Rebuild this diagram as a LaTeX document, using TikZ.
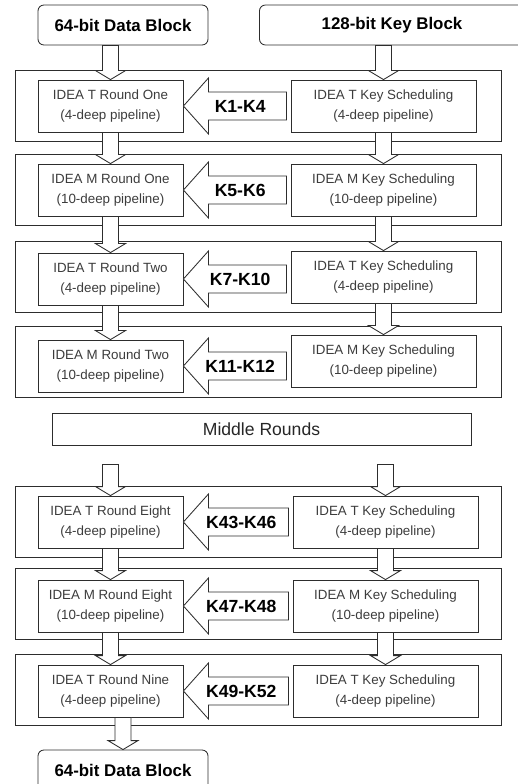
\documentclass[tikz,border=0pt]{standalone}
\usepackage{fontspec}
\setmainfont{Liberation Sans}
\usetikzlibrary{calc}
\definecolor{linegray}{RGB}{45,45,45}
\definecolor{textgray}{RGB}{60,60,60}

\newcommand{\flowarrow}[3][0]{%
\draw[blockarrow] ($(#2.south -| #3.north)+(-8,#1)$) -- ($(#3.north)+(-8,-9)$) -- ($(#3.north)+(-15,-9)$) -- (#3.north) -- ($(#3.north)+(15,-9)$) -- ($(#3.north)+(8,-9)$) -- ($(#2.south -| #3.north)+(8,#1)$) -- cycle;}
\newcommand{\keyarrow}[4]{%
\draw[blockarrow] (#2.east) -- ($(#2.east)+(25,-28)$) -- ($(#2.east)+(25,-14)$) -- ($(#2.east -| #3.west)+(-4,-14)$) -- ($(#2.east -| #3.west)+(-4,14)$) -- ($(#2.east)+(25,14)$) -- ($(#2.east)+(25,28)$) -- cycle;
\node[keylabel] (#1) at ($(#2.east)!0.55!($(#2.east -| #3.west)+(-4,0)$)$) {#4};}

\begin{document}
\begin{tikzpicture}[x=0.025cm, y=-0.025cm,
  every node/.style={font=\fontsize{9.5}{14}\selectfont, text=textgray},
  stagebox/.style={draw=linegray, line width=0.6pt, minimum width=12.15cm, minimum height=1.775cm},
  roundbox/.style={draw=linegray, line width=0.6pt, fill=white, minimum width=3.625cm, minimum height=1.3cm, align=center},
  schedbox/.style={roundbox, minimum width=4.625cm},
  blockbox/.style={draw=linegray, line width=0.6pt, rounded corners=0.15cm, minimum height=1cm, font=\bfseries\fontsize{12}{14}\selectfont, text=black},
  blockarrow/.style={draw=linegray, fill=white, line width=0.6pt, line join=miter},
  keylabel/.style={font=\bfseries\fontsize{12.5}{14}\selectfont, text=black}]
\useasboundingbox (0,0) rectangle (518,784);
\clip (0,0) rectangle (518,784);

\node[blockbox, minimum width=4.25cm] (datain) at (123,25) {64-bit Data Block};
\node[blockbox, minimum width=6.625cm] (keyin) at (392,25) {128-bit Key Block};

\node[stagebox] (s1) at (258.5,106) {};
\node[stagebox] (s2) at (258.5,190) {};
\node[stagebox] (s3) at (258.5,277) {};
\node[stagebox] (s4) at (258.5,362) {};
\node[stagebox] (s5) at (258.5,522) {};
\node[stagebox] (s6) at (258.5,604) {};
\node[stagebox] (s7) at (258.5,690) {};

\node[roundbox] (t1) at (110.5,106) {IDEA T Round One\\(4-deep pipeline)};
\node[schedbox] (k1) at (383.5,106) {IDEA T Key Scheduling\\(4-deep pipeline)};
\node[roundbox] (t2) at (110.5,190) {IDEA M Round One\\(10-deep pipeline)};
\node[schedbox] (k2) at (383.5,190) {IDEA M Key Scheduling\\(10-deep pipeline)};
\node[roundbox] (t3) at (110.5,279) {IDEA T Round Two\\(4-deep pipeline)};
\node[schedbox] (k3) at (383.5,277) {IDEA T Key Scheduling\\(4-deep pipeline)};
\node[roundbox] (t4) at (110.5,366) {IDEA M Round Two\\(10-deep pipeline)};
\node[schedbox] (k4) at (383.5,361) {IDEA M Key Scheduling\\(10-deep pipeline)};

\node[draw=linegray, line width=0.6pt, minimum width=10.475cm, minimum height=0.8cm, font=\fontsize{12.5}{14}\selectfont, text=black!85] (middle) at (261.5,429) {Middle Rounds};

\node[roundbox] (t5) at (110.5,522) {IDEA T Round Eight\\(4-deep pipeline)};
\node[schedbox] (k5) at (385.5,522) {IDEA T Key Scheduling\\(4-deep pipeline)};
\node[roundbox] (t6) at (110.5,606) {IDEA M Round Eight\\(10-deep pipeline)};
\node[schedbox] (k6) at (385.5,606) {IDEA M Key Scheduling\\(10-deep pipeline)};
\node[roundbox] (t7) at (110.5,691) {IDEA T Round Nine\\(4-deep pipeline)};
\node[schedbox] (k7) at (385.5,691) {IDEA T Key Scheduling\\(4-deep pipeline)};

\node[blockbox, minimum width=4.25cm] (dataout) at (123,770) {64-bit Data Block};

\flowarrow{datain}{t1}
\flowarrow{keyin}{k1}
\flowarrow{t1}{t2}
\flowarrow{k1}{k2}
\flowarrow{t2}{t3}
\flowarrow{k2}{k3}
\flowarrow{t3}{t4}
\flowarrow{k3}{k4}
\flowarrow[19]{middle}{t5}
\flowarrow[19]{middle}{k5}
\flowarrow{t5}{t6}
\flowarrow{k5}{k6}
\flowarrow{t6}{t7}
\flowarrow{k6}{k7}
\flowarrow{t7}{dataout}

\keyarrow{key1}{t1}{k1}{K1-K4}
\keyarrow{key2}{t2}{k2}{K5-K6}
\keyarrow{key3}{t3}{k3}{K7-K10}
\keyarrow{key4}{t4}{k4}{K11-K12}
\keyarrow{key5}{t5}{k5}{K43-K46}
\keyarrow{key6}{t6}{k6}{K47-K48}
\keyarrow{key7}{t7}{k7}{K49-K52}
\end{tikzpicture}
\end{document}
